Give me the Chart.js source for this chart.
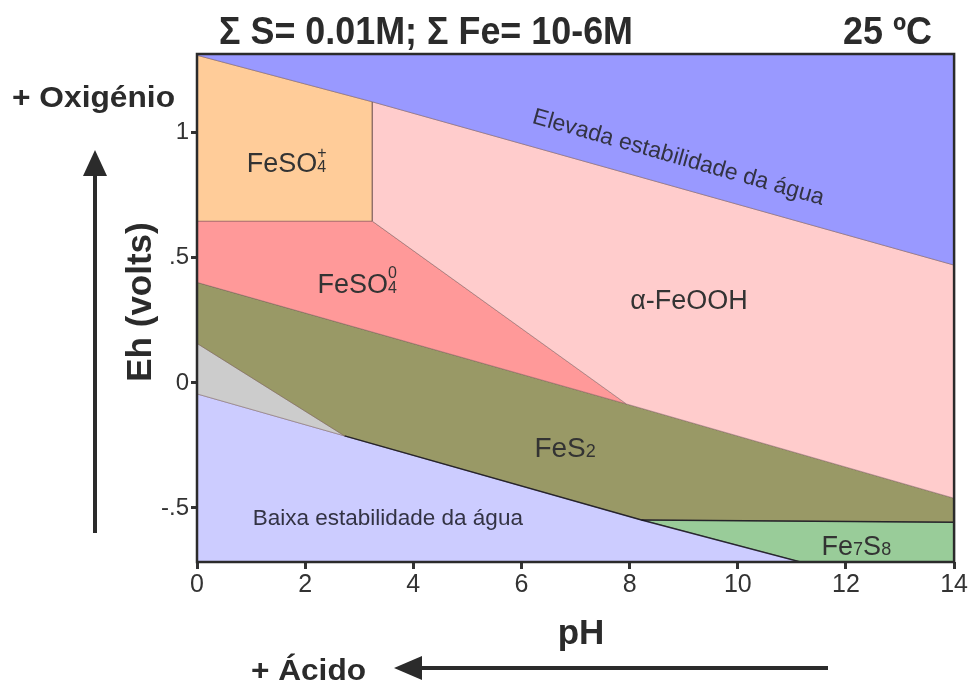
<!DOCTYPE html>
<html><head><meta charset="utf-8">
<script src="https://cdn.jsdelivr.net/npm/chart.js@4"></script>
<style>html,body{margin:0;padding:0;background:#fff}#wrap{width:969px;height:684px}</style>
</head><body><div id="wrap"><canvas id="c" width="969" height="684"></canvas></div>
<script>
// ---- data (pH, Eh in volts) for each stability field polygon ----
const phOxid = [0, 14, 14, 3.24, 0];
const ehOxid = [1.315, 1.315, 0.471, 1.124, 1.31];
const phFeSO4p = [0, 3.24, 3.24, 0];
const ehFeSO4p = [1.31, 1.124, 0.647, 0.647];
const phFeOOH = [3.24, 14, 14, 7.94, 3.24];
const ehFeOOH = [1.124, 0.471, -0.461, -0.084, 0.647];
const phFeSO40 = [0, 3.24, 7.94, 0];
const ehFeSO40 = [0.647, 0.647, -0.084, 0.402];
const phFeS2 = [0, 7.94, 14, 14, 8.22, 2.73, 0];
const ehFeS2 = [0.402, -0.084, -0.461, -0.557, -0.548, -0.212, 0.158];
const phGray = [0, 2.73, 0];
const ehGray = [0.158, -0.212, -0.044];
const phRed = [0, 2.73, 8.22, 11.16, 0];
const ehRed = [-0.044, -0.212, -0.548, -0.716, -0.716];
const phFe7S8 = [8.22, 14, 14, 11.16];
const ehFe7S8 = [-0.548, -0.557, -0.716, -0.716];
const phWaterLow = [2.73, 8.22, 11.16];
const ehWaterLow = [-0.212, -0.548, -0.716];
const phPyrBase = [8.22, 14];
const ehPyrBase = [-0.548, -0.557];

const xTicks = [0, 2, 4, 6, 8, 10, 12, 14];
const yTicks = [1, 0.5, 0, -0.5];
const yTickLabels = ['1', '.5', '0', '-.5'];

const fieldNames = ['Elevada estabilidade da água', 'FeSO4+', 'α-FeOOH', 'FeSO40', 'FeS2', 'gray', 'Baixa estabilidade da água', 'Fe7S8'];

function pts(xs, ys, close) {
  const a = xs.map((x, i) => ({x: x, y: ys[i]}));
  if (close) a.push({x: xs[0], y: ys[0]});
  return a;
}
function poly(label, xs, ys, color) {
  return {label, data: pts(xs, ys, true), backgroundColor: color, borderColor: 'rgba(110,80,80,0.55)',
    borderWidth: 0.8, fill: 'shape', pointRadius: 0, tension: 0};
}
function line(label, xs, ys) {
  return {label, data: pts(xs, ys, false), borderColor: 'rgba(20,20,30,0.85)', borderWidth: 1.4,
    fill: false, pointRadius: 0, tension: 0};
}

const FONT = "'Liberation Sans', Arial, Helvetica, sans-serif";
const TXT = '#333333';

const decor = {
  id: 'decor',
  afterDatasetsDraw(chart) {
    const {ctx, chartArea: a, scales: {x, y}} = chart;
    ctx.save();
    // frame
    ctx.strokeStyle = '#2b2b2b'; ctx.lineWidth = 2.5;
    ctx.strokeRect(a.left, a.top, a.right - a.left, a.bottom - a.top);
    ctx.fillStyle = TXT; ctx.textBaseline = 'alphabetic'; ctx.textAlign = 'left';
    function rich(px, py, parts) {
      let cx = px;
      for (const p of parts) {
        ctx.font = p.size + 'px ' + FONT;
        if (p.stack) {
          ctx.fillText(p.t, cx, py + (p.dy || 0));
          ctx.fillText(p.stack, cx, py + p.sdy);
          cx += Math.max(ctx.measureText(p.t).width, ctx.measureText(p.stack).width);
        } else {
          ctx.fillText(p.t, cx, py + (p.dy || 0));
          cx += ctx.measureText(p.t).width;
        }
      }
    }
    rich(x.getPixelForValue(0.92), y.getPixelForValue(0.843), [{t: 'FeSO', size: 27}, {t: '4', size: 16, stack: '+', sdy: -14}]);
    rich(x.getPixelForValue(2.23), y.getPixelForValue(0.359), [{t: 'FeSO', size: 27}, {t: '4', size: 16, stack: '0', sdy: -15}]);
    rich(x.getPixelForValue(8.01), y.getPixelForValue(0.295), [{t: 'α-FeOOH', size: 27}]);
    rich(x.getPixelForValue(6.24), y.getPixelForValue(-0.296), [{t: 'FeS', size: 28}, {t: '2', size: 18}]);
    rich(x.getPixelForValue(11.55), y.getPixelForValue(-0.688), [{t: 'Fe', size: 27}, {t: '7', size: 18}, {t: 'S', size: 27}, {t: '8', size: 18}]);
    ctx.fillStyle = '#333344';
    rich(x.getPixelForValue(1.03), y.getPixelForValue(-0.568), [{t: 'Baixa estabilidade da água', size: 22.5}]);
    ctx.save();
    ctx.translate(x.getPixelForValue(8.9), y.getPixelForValue(0.9));
    ctx.rotate(15.8 * Math.PI / 180);
    ctx.font = '23px ' + FONT; ctx.textAlign = 'center'; ctx.textBaseline = 'middle';
    ctx.fillText('Elevada estabilidade da água', 0, 0);
    ctx.restore();

    // outside annotations
    ctx.fillStyle = '#2b2b2b';
    function fitText(t, left, base, size, w) {
      ctx.save();
      ctx.font = 'bold ' + size + 'px ' + FONT;
      const m = ctx.measureText(t).width;
      ctx.translate(left, base); ctx.scale(w / m, 1);
      ctx.textAlign = 'left'; ctx.textBaseline = 'alphabetic';
      ctx.fillText(t, 0, 0);
      ctx.restore();
    }
    fitText('Σ S= 0.01M; Σ Fe= 10-6M', 219, 44, 39, 414);
    fitText('25 ºC', 843, 44, 38, 89);
    fitText('+ Oxigénio', 12, 107, 30, 163);
    fitText('+ Ácido', 251, 680, 30, 115);
    ctx.font = 'bold 35px ' + FONT; ctx.textAlign = 'center'; ctx.textBaseline = 'alphabetic';
    ctx.fillText('pH', 581, 644);
    ctx.save();
    ctx.translate(151, 302); ctx.rotate(-Math.PI / 2);
    ctx.fillText('Eh (volts)', 0, 0);
    ctx.restore();
    // arrows
    ctx.strokeStyle = '#2b2b2b'; ctx.lineWidth = 4;
    ctx.beginPath(); ctx.moveTo(95, 533); ctx.lineTo(95, 170); ctx.stroke();
    ctx.beginPath(); ctx.moveTo(95, 150); ctx.lineTo(83, 176); ctx.lineTo(107, 176); ctx.closePath(); ctx.fill();
    ctx.beginPath(); ctx.moveTo(828, 668); ctx.lineTo(415, 668); ctx.stroke();
    ctx.beginPath(); ctx.moveTo(394, 668); ctx.lineTo(422, 656); ctx.lineTo(422, 680); ctx.closePath(); ctx.fill();
    ctx.restore();
  }
};

new Chart(document.getElementById('c'), {
  type: 'line',
  data: {datasets: [
    line('Linha inferior da água', phWaterLow, ehWaterLow),
    line('Base FeS2', phPyrBase, ehPyrBase),
    poly(fieldNames[0], phOxid, ehOxid, '#9999ff'),
    poly(fieldNames[1], phFeSO4p, ehFeSO4p, '#ffcc99'),
    poly(fieldNames[2], phFeOOH, ehFeOOH, '#ffcccc'),
    poly(fieldNames[3], phFeSO40, ehFeSO40, '#ff9999'),
    poly(fieldNames[4], phFeS2, ehFeS2, '#999966'),
    poly(fieldNames[5], phGray, ehGray, '#cccccc'),
    poly(fieldNames[6], phRed, ehRed, '#ccccff'),
    poly(fieldNames[7], phFe7S8, ehFe7S8, '#99cc99')
  ]},
  options: {
    responsive: false, animation: false, devicePixelRatio: 1,
    layout: {padding: {left: 0, right: 11, top: 54, bottom: 0}},
    plugins: {legend: {display: false}, tooltip: {enabled: false}, title: {display: false}},
    scales: {
      x: {type: 'linear', min: 0, max: 14,
        afterFit: s => { s.height = 122; },
        afterBuildTicks: s => { s.ticks = xTicks.map(v => ({value: v})); },
        border: {display: false},
        grid: {drawOnChartArea: false, drawTicks: true, tickLength: 7, tickWidth: 3, tickColor: '#333'},
        ticks: {font: {family: FONT, size: 25}, color: TXT, padding: 1, maxRotation: 0, autoSkip: false}
      },
      y: {type: 'linear', min: -0.716, max: 1.315,
        afterFit: s => { s.width = 197; },
        afterBuildTicks: s => { s.ticks = yTicks.map(v => ({value: v})); },
        border: {display: false},
        grid: {drawOnChartArea: false, drawTicks: true, tickLength: 6, tickWidth: 3, tickColor: '#333'},
        ticks: {font: {family: FONT, size: 24}, color: TXT, padding: 2, autoSkip: false,
          callback: (v) => { const i = yTicks.indexOf(v); return i >= 0 ? yTickLabels[i] : ''; }}
      }
    }
  },
  plugins: [decor]
});
</script>
</body></html>
